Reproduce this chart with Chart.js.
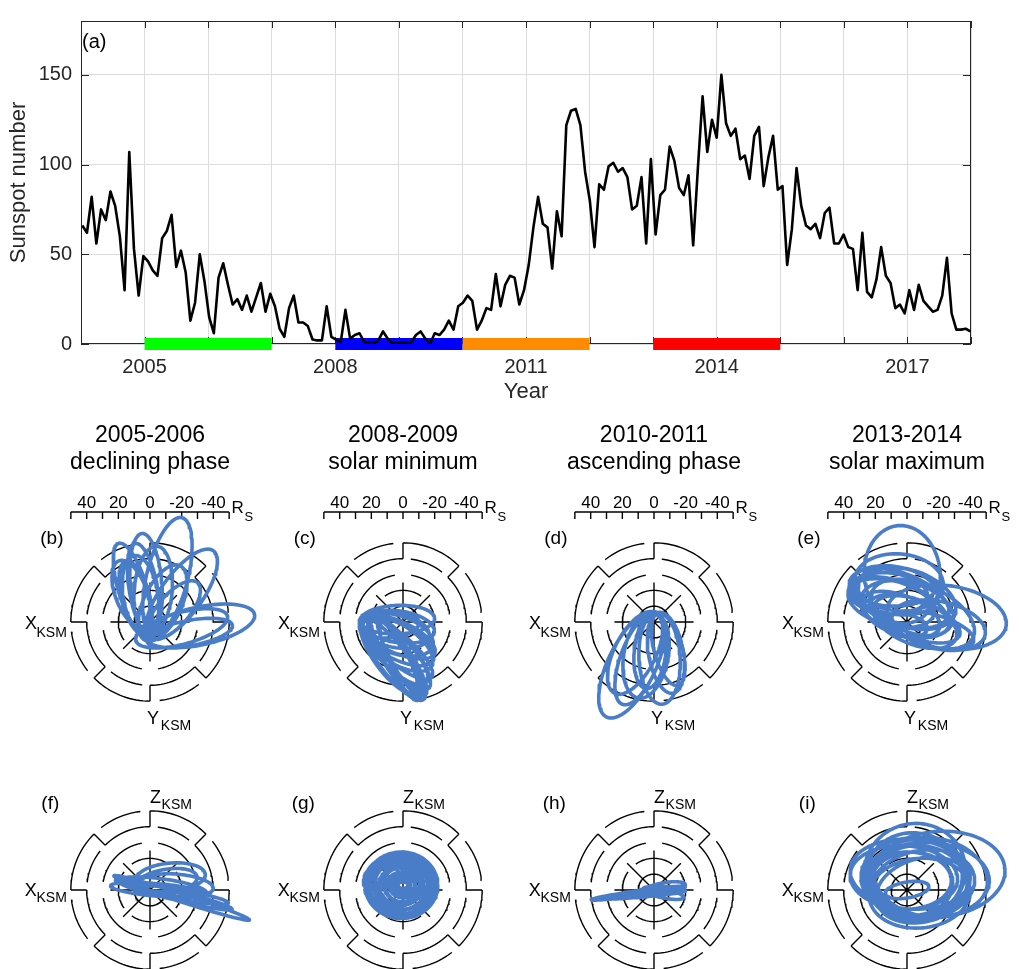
<!DOCTYPE html>
<html>
<head>
<meta charset="utf-8">
<script src="https://cdn.jsdelivr.net/npm/chart.js@4.4.0/dist/chart.umd.min.js"></script>
<style>
  html, body { margin: 0; padding: 0; background: #fff; }
  #wrap { position: relative; width: 1019px; height: 969px; overflow: hidden; background: #fff; }
  #wrap canvas { position: absolute; }
</style>
</head>
<body>
<div id="wrap">
  <canvas id="main" width="1019" height="410" style="left:0;top:0"></canvas>
</div>
<script>
// ---- panel (a): sunspot number, one value per 27-day solar rotation from early 2004
const startYear = 2004.02;
const rotationYears = 27 / 365.25;
const sunspots = [
  66, 62, 82, 56, 75, 69, 85, 77, 60, 30, 107, 53, 27, 49, 46, 41, 38, 59, 63, 72,
  43, 52, 40, 13, 23, 50, 35, 15, 6, 37, 45, 33, 22, 25, 19, 27, 18, 26, 34, 18,
  28, 21, 8.5, 4, 20, 27, 12, 12, 10, 2.5, 2, 2, 21, 4, 2.5, 1, 19, 3, 5, 6,
  1, 1, 0.5, 2, 7, 3, 0.5, 0.5, 0.5, 0.5, 1, 5, 7, 3, 0, 6, 5, 8, 13, 8,
  21, 23, 27, 24, 8, 13, 20, 19, 39, 21, 33, 38, 37, 22, 30, 44, 65, 82, 67, 65,
  42, 74, 60, 122, 130, 131, 122, 96, 80, 54, 89, 86, 99, 101, 96, 98, 93, 75, 77, 93,
  56, 103, 61, 83, 86, 110, 102, 87, 83, 94, 55, 98, 138, 107, 125, 115, 150, 123, 116, 120,
  103, 105, 92, 116, 121, 88, 104, 116, 86, 88, 44, 64, 98, 77, 66, 64, 67, 59, 73, 76,
  56, 56, 61, 54, 53, 30, 62, 29, 26, 36, 54, 38, 34, 20, 22, 17, 30, 19, 33, 24,
  21, 18, 19, 27, 48, 17, 8, 8, 8.5, 7
];
const tickYears = [2005, 2008, 2011, 2014, 2017];

// the four phases marked on the time axis
const phaseTitles = ['2005-2006', '2008-2009', '2010-2011', '2013-2014'];
const phaseNames = ['declining phase', 'solar minimum', 'ascending phase', 'solar maximum'];
const phaseStart = [2005, 2008, 2010, 2013];
const phaseEnd = [2007, 2010, 2012, 2015];
const phaseColors = ['#00ff00', '#0000ff', '#ff8c00', '#ff0000'];
const topLetters = ['(b)', '(c)', '(d)', '(e)'];
const bottomLetters = ['(f)', '(g)', '(h)', '(i)'];

const orbitsXY = [
  [[-11, 21, 30, 9, 107], [-2.5, 24, 32, 10, 94.5], [11, 29, 38, 13, 76], [20, 17.5, 34, 13, 54],
   [31.5, -2.5, 35.3, 12, 12], [25, -7, 27.5, 8, 10.5], [-9, 15, 24, 9, 104.6], [-6, 17, 25.3, 11, 99],
   [15, 7.5, 23, 10, 49], [2, 20, 28, 12, 85], [8, 12, 26, 12, 65], [20, -4, 30, 10, 15],
   [-12, 18, 22, 10, 110], [-4, 20, 30, 9, 100]],
  [[-6.5, -23.5, 32, 9, -52.6], [-7.5, -21, 29.7, 11, -54], [-4, -19, 30.5, 10, -49], [-4, -16.5, 28.7, 9, -40],
   [-3.5, -9.5, 25.7, 10, -24], [-3.5, 1.5, 23.5, 9, 2], [-3.5, -14, 25.6, 12, -33], [-3, -20.5, 30.6, 7, -56],
   [-5, -5, 22, 11, -12], [-2, -22, 28, 6, -62], [-4, -12, 26, 11, -28], [-6, -18, 29, 10, -45],
   [-5, -22, 30, 8, -58], [-3, -3, 23, 10, -8], [-4, -8, 24, 12, -18], [-2, -25, 27, 6, -65], [-8, -2, 18, 8, 5]],
  [[-14, -27, 36.7, 15, -115.9], [-9, -23, 31, 12, -110.8], [3.5, -23, 29, 13, -87], [7.5, -19.5, 25.9, 11, -80],
   [-5, -21, 27.5, 14, -100.5], [-12, -19.5, 28.6, 13, -117], [9, -17, 23.8, 9, -75], [-2.5, -18.5, 23.7, 10, -96]],
  [[25, 3, 38, 20, -8], [20, -2, 30, 15, -12], [-3, 30, 31, 24, 95], [-5, 15, 33, 16, -20],
   [-3, 10, 32, 14, -25], [0, 8, 30, 17, -15], [-8, 20, 28, 15, -10], [5, 2, 30, 12, -20],
   [-2, -2, 15, 7, -10], [10, 5, 35, 18, -25], [-5, 25, 28, 18, -5], [-10, 12, 28, 14, -15],
   [0, 15, 32, 18, -18], [-12, 18, 25, 13, -5], [5, 0, 28, 14, -22], [-4, 5, 26, 12, -20],
   [15, -5, 28, 10, -15], [-8, 22, 26, 12, 0]]
];
const orbitsXZ = [
  [[20, -5, 45, 2.5, -18], [15, -3, 38, 3, -14], [13, 8, 22, 9, 5], [10, 5, 20, 8, 10],
   [17, 3, 23, 7, -5], [5, 0, 30, 4, -5], [8, 2, 28, 5, -8], [20, -3, 30, 3, -10]],
  [[-1, 3, 23, 21, 0], [-1, 3, 21.5, 19.5, 5], [-1, 3, 20, 18, 10], [0, 2, 18.5, 17, -10],
   [-1, 3, 17, 15.5, 0], [0, 2, 15.5, 14, 20], [-1, 3, 14, 12.5, 0], [0, 3, 12.5, 11, -15],
   [0, 2, 11, 9.5, 0], [1, 3, 9.5, 8, 10], [0, 3, 8, 6.5, 0], [1, 3, 6.5, 5, 0],
   [0, 3, 5, 3.5, 0], [0, 3, 3.5, 2, 0], [-2, 1, 20, 18, -15], [0, 4, 17, 13, 30],
   [-3, 2, 21, 15, 5], [-12, 9, 14, 7, 25], [-10, 8, 12, 6, 15], [-14, 10, 11, 6, 20],
   [2, 0, 18, 16, 0], [-2, 5, 22, 17, -5]],
  [[-10, -2, 30, 1.5, 8], [6, 1, 14, 3.5, 10], [6, -2, 13, 3, -12], [2, 0, 12, 2, 5], [-8, -3, 28, 1.5, 5]],
  [[20, 10, 42, 27, 5], [5, 12, 32, 30, 10], [5, 8, 34, 25, 0], [8, 5, 30, 23, -5],
   [2, 10, 38, 22, -5], [10, 3, 33, 22, 10], [15, 8, 36, 25, -8], [0, 6, 28, 18, 0],
   [10, 0, 30, 20, 15], [0, 0, 14, 5, 10], [5, 10, 30, 26, -10], [12, 6, 40, 24, 0],
   [8, -2, 32, 22, 5], [3, 4, 26, 20, 0], [6, 8, 30, 24, 5], [-2, 8, 34, 20, -3]]
];

// dashed distance rings: [radius R_S, from deg, to deg]
const ringArcs = [
  [10, 0, 360],
  [20, 55, 125], [20, 145, 215], [20, 235, 305], [20, 325, 395],
  [30, 10, 80], [30, 100, 170], [30, 190, 260], [30, 280, 350],
  [40, 0, 45], [40, 90, 135], [40, 180, 225], [40, 270, 315],
  [40, 52, 83], [40, 142, 173], [40, 232, 263], [40, 322, 353],
  [50, 45, 90], [50, 135, 180], [50, 225, 270], [50, 315, 360],
  [50, 7, 38], [50, 97, 128], [50, 187, 218], [50, 277, 308]
];
const spokeAngles = [0, 45, 90, 135, 180, 225, 270, 315];
const rulerTicks = [-50, -40, -30, -20, -10, 0, 10, 20, 30, 40, 50];
const rulerLabels = [-40, -20, 0, 20, 40];

Chart.defaults.font.family = '"Liberation Sans", Arial, Helvetica, sans-serif';
Chart.defaults.color = '#262626';

// box with inward ticks, MATLAB style
const boxPlugin = {
  id: 'box',
  beforeDatasetsDraw(chart) {
    const { ctx, chartArea: a, scales: { x, y } } = chart;
    ctx.save();
    ctx.strokeStyle = '#262626';
    ctx.lineWidth = 1;
    ctx.strokeRect(a.left + 0.5, a.top + 0.5, a.right - a.left - 1, a.bottom - a.top - 1);
    ctx.beginPath();
    x.ticks.forEach(t => {
      const px = Math.round(x.getPixelForValue(t.value)) + 0.5;
      ctx.moveTo(px, a.bottom); ctx.lineTo(px, a.bottom - 7);
      ctx.moveTo(px, a.top); ctx.lineTo(px, a.top + 7);
    });
    y.ticks.forEach(t => {
      const py = Math.round(y.getPixelForValue(t.value)) + 0.5;
      ctx.moveTo(a.left, py); ctx.lineTo(a.left + 8, py);
      ctx.moveTo(a.right, py); ctx.lineTo(a.right - 8, py);
    });
    ctx.stroke();
    ctx.restore();
  },
  afterDraw(chart) {
    const { ctx, chartArea: a } = chart;
    ctx.save();
    ctx.fillStyle = '#000';
    ctx.font = '20px "Liberation Sans", Arial, sans-serif';
    ctx.textBaseline = 'middle';
    ctx.fillText('(a)', a.left + 1, a.top + 21);
    ctx.restore();
  }
};

new Chart(document.getElementById('main'), {
  type: 'line',
  data: {
    datasets: [
      {
        data: sunspots.map((v, i) => ({ x: startYear + i * rotationYears, y: v })),
        borderColor: '#000', borderWidth: 2.6, pointRadius: 0, tension: 0,
        borderJoinStyle: 'round'
      },
      ...phaseStart.map((s, k) => ({
        data: [{ x: s, y: 0 }, { x: phaseEnd[k], y: 0 }],
        borderColor: phaseColors[k], borderWidth: 12, borderCapStyle: 'butt',
        pointRadius: 0, clip: false
      }))
    ]
  },
  options: {
    responsive: false,
    animation: false,
    devicePixelRatio: 1,
    layout: { padding: { top: 12, right: 48, left: 0, bottom: 0 } },
    plugins: { legend: { display: false }, tooltip: { enabled: false } },
    scales: {
      x: {
        type: 'linear', min: 2004, max: 2018,
        afterFit: s => { s.height = 66; },
        grid: { color: '#dcdcdc', drawTicks: false },
        border: { display: false },
        ticks: {
          stepSize: 1, autoSkip: false, maxRotation: 0, padding: 11,
          font: { size: 20 },
          callback: v => tickYears.includes(v) ? String(v) : ''
        },
        title: { display: true, text: 'Year', font: { size: 22 }, padding: { top: 0, bottom: 5 } }
      },
      y: {
        min: 0, max: 180,
        afterFit: s => { s.width = 81; },
        grid: { color: '#dcdcdc', drawTicks: false },
        border: { display: false },
        ticks: { stepSize: 50, includeBounds: false, padding: 9, font: { size: 20 } },
        title: { display: true, text: 'Sunspot number', font: { size: 22 }, padding: { top: 6, bottom: 0 } }
      }
    }
  },
  plugins: [boxPlugin]
});

// ---- orbit panels
const orbitColor = '#4a7dc8';
const pxPerRs = 1.583;
const panelCentres = [150, 403, 654, 907];

function loopPoints(loops) {
  const pts = [];
  loops.forEach(([cx, cy, a, b, deg]) => {
    const phi = deg * Math.PI / 180;
    for (let k = 0; k <= 96; k++) {
      const t = k / 96 * 2 * Math.PI;
      pts.push({
        x: cx + a * Math.cos(t) * Math.cos(phi) - b * Math.sin(t) * Math.sin(phi),
        y: cy + a * Math.cos(t) * Math.sin(phi) + b * Math.sin(t) * Math.cos(phi)
      });
    }
    pts.push({ x: cx, y: null });
  });
  return pts;
}

function polar(r, deg) {
  const t = deg * Math.PI / 180;
  return { x: r * Math.cos(t), y: r * Math.sin(t) };
}

function gridPoints(withRuler) {
  const pts = [];
  ringArcs.forEach(([r, a0, a1]) => {
    for (let d = a0; d <= a1; d += 2.5) pts.push(polar(r, d));
    pts.push(polar(r, a1));
    pts.push({ x: 0, y: null });
  });
  spokeAngles.forEach(d => {
    pts.push(polar(0, d), polar(d % 90 === 0 ? 25 : 24, d), { x: 0, y: null });
    pts.push(polar(40, d), polar(50, d), { x: 0, y: null });
  });
  if (withRuler) {
    pts.push({ x: rulerTicks[0], y: 69.5 }, { x: rulerTicks[rulerTicks.length - 1], y: 69.5 }, { x: 0, y: null });
    rulerTicks.forEach(u => pts.push({ x: u, y: 69.5 }, { x: u, y: 65.1 }, { x: 0, y: null }));
  }
  return pts;
}

const panelTextPlugin = {
  id: 'panelText',
  afterDraw(chart) {
    const { ctx, scales: { x, y } } = chart;
    ctx.save();
    ctx.fillStyle = '#000';
    ctx.textAlign = 'center';
    ctx.textBaseline = 'middle';
    (chart.canvas.panelItems || []).forEach(([t, u, v, size]) => {
      ctx.font = size + 'px "Liberation Sans", Arial, sans-serif';
      ctx.fillText(t, x.getPixelForValue(u), y.getPixelForValue(v));
    });
    ctx.restore();
  }
};

function makePanel(k, top) {
  const cx = panelCentres[k];
  const cy = top ? 622 : 890;
  const canvasTop = top ? 415 : 770;
  const canvasBottom = top ? 750 : 969;
  const w = 252;
  const cv = document.createElement('canvas');
  cv.width = w;
  cv.height = canvasBottom - canvasTop;
  cv.style.left = (cx - w / 2) + 'px';
  cv.style.top = canvasTop + 'px';
  document.getElementById('wrap').appendChild(cv);

  const items = [];
  if (top) {
    items.push([phaseTitles[k], 0, 118, 23], [phaseNames[k], 0, 100.4, 23], [topLetters[k], -62, 52.8, 19]);
    rulerLabels.forEach(u => items.push([String(-u), u, 75.2, 17]));
    items.push(['R', 55.3, 71.7, 17], ['S', 62.5, 66.3, 13]);
    items.push(['X', -75.2, -1, 18], ['KSM', -62.1, -7, 14]);
    items.push(['Y', 1.9, -61, 18], ['KSM', 16.4, -65.7, 14]);
  } else {
    items.push([bottomLetters[k], -63, 54.3, 19]);
    items.push(['Z', 3.4, 58.4, 18], ['KSM', 16.9, 53.7, 14]);
    items.push(['X', -75.3, -0.6, 18], ['KSM', -62.1, -5, 14]);
  }
  cv.panelItems = items;

  const half = w / 2 / pxPerRs;
  new Chart(cv, {
    type: 'scatter',
    data: {
      datasets: [
        {
          data: loopPoints(top ? orbitsXY[k] : orbitsXZ[k]),
          showLine: true, spanGaps: false, borderColor: orbitColor, borderWidth: 3.6,
          pointRadius: 0, borderJoinStyle: 'round', borderCapStyle: 'round', tension: 0
        },
        {
          data: gridPoints(top),
          showLine: true, spanGaps: false, borderColor: '#000', borderWidth: 1.4,
          pointRadius: 0, tension: 0
        }
      ]
    },
    options: {
      responsive: false,
      animation: false,
      devicePixelRatio: 1,
      layout: { padding: 0 },
      plugins: { legend: { display: false }, tooltip: { enabled: false } },
      scales: {
        x: { type: 'linear', display: false, min: -half, max: half },
        y: { type: 'linear', display: false,
             min: -(canvasBottom - cy) / pxPerRs, max: (cy - canvasTop) / pxPerRs }
      }
    },
    plugins: [panelTextPlugin]
  });
}

for (let k = 0; k < 4; k++) {
  makePanel(k, true);
  makePanel(k, false);
}
</script>
</body>
</html>
